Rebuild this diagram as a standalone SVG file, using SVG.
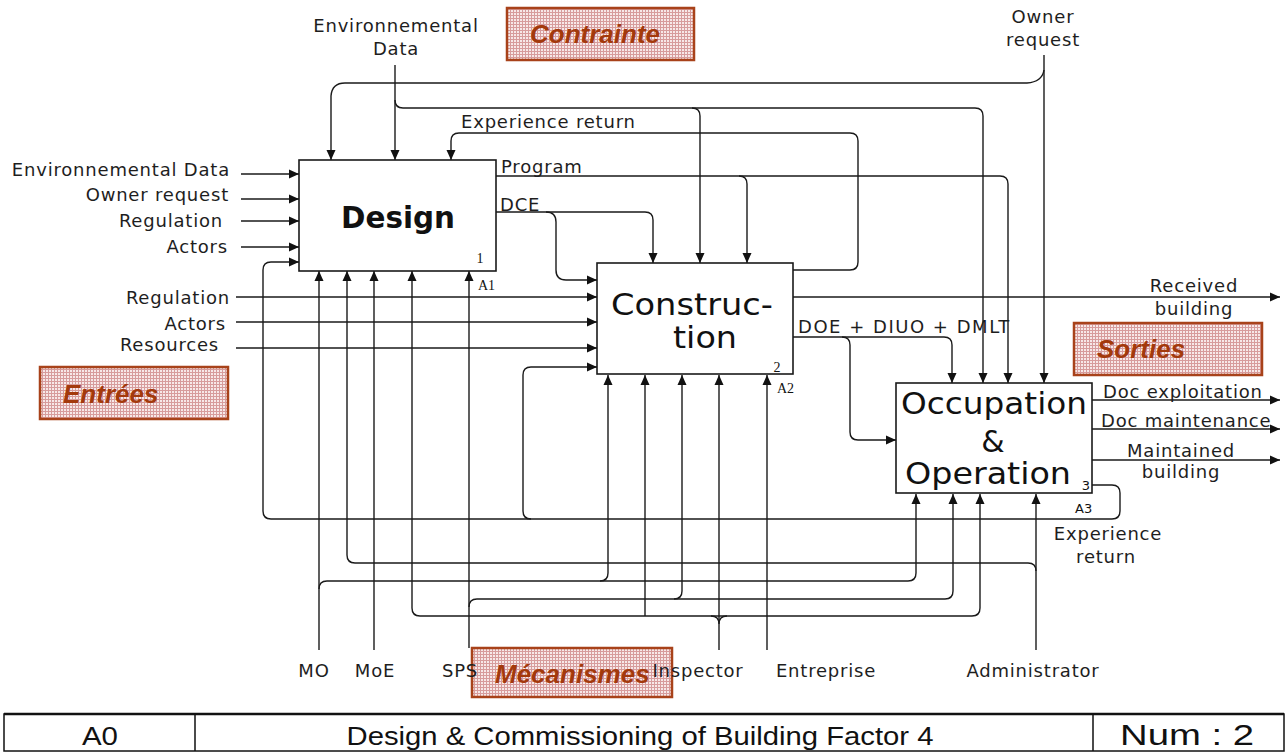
<svg xmlns="http://www.w3.org/2000/svg" width="1288" height="752" viewBox="0 0 1288 752">
<defs>
<marker id="ah" viewBox="0 0 10 10" refX="10" refY="5" markerWidth="10" markerHeight="10" markerUnits="userSpaceOnUse" orient="auto"><path d="M0,0.5 L10,5 L0,9.5 z" fill="#111"/></marker>
<pattern id="grid" width="3" height="3" patternUnits="userSpaceOnUse"><rect width="3" height="3" fill="#f7e8e8"/><path d="M0,0.5H3M0.5,0V3" stroke="#d79c9c" stroke-width="1"/></pattern>
<style>
.c path{fill:none;stroke:#1a1a1a;stroke-width:1.4}
.a{marker-end:url(#ah)}
.node rect{fill:#fff;stroke:#1a1a1a;stroke-width:1.6}
.big{font-family:"DejaVu Sans",Verdana,sans-serif;font-size:31px;fill:#111}
.lbl{font-family:"DejaVu Sans",Verdana,sans-serif;font-size:18px;letter-spacing:0.8px;fill:#1e1e1e}
.m{text-anchor:middle}
.e{text-anchor:end}
.num{font-family:"Liberation Serif","Times New Roman",serif;font-size:14px;fill:#111}
.nums{font-family:"DejaVu Sans",Verdana,sans-serif;font-size:13px;fill:#111}
.tag rect{fill:url(#grid);stroke:#a8421a;stroke-width:2.5}
.tag text{font-family:"Liberation Sans",Arial,sans-serif;font-weight:bold;font-style:italic;font-size:26px;fill:#a3390c}
.tb{font-family:"Liberation Sans",Arial,sans-serif;font-size:26px;fill:#111;text-anchor:middle}
</style>
</defs>
<rect width="1288" height="752" fill="#fff"/>

<g id="connectors" class="c">
<path class="a" d="M241,174H299"/>
<path class="a" d="M241,199H299"/>
<path class="a" d="M241,221H299"/>
<path class="a" d="M241,247H299"/>
<path class="a" d="M236,297H597"/>
<path class="a" d="M236,322H597"/>
<path class="a" d="M236,348H597"/>
<path class="a" d="M1044,55V383"/>
<path class="a" d="M1044,70Q1042,82 1027,83H345Q332,83 331,96V160"/>
<path class="a" d="M395,65V160"/>
<path class="a" d="M395,100Q395,108 403,108H975Q983,108 983,116V383"/>
<path class="a" d="M692,108Q700,108 700,116V263"/>
<path class="a" d="M793,270H850Q858,270 858,262V141Q858,133 850,133H459Q451,133 451,141V160"/>
<path class="a" d="M496,176H1000Q1008,176 1008,184V383"/>
<path class="a" d="M739,176Q747,176 747,184V263"/>
<path class="a" d="M496,212H645Q653,212 653,220V263"/>
<path class="a" d="M546,212Q556,212 556,222V270Q556,280 566,280H597"/>
<path class="a" d="M793,297H1280"/>
<path class="a" d="M793,337H944Q952,337 952,345V383"/>
<path class="a" d="M842,337Q850,337 850,345V432Q850,440 858,440H896"/>
<path class="a" d="M1092,400H1280"/>
<path class="a" d="M1092,429H1280"/>
<path class="a" d="M1092,460H1280"/>
<path class="a" d="M1092,485H1112Q1120,485 1120,493V511Q1120,519 1112,519H271Q263,519 263,511V270Q263,262 271,262H299"/>
<path class="a" d="M531,519Q523,519 523,511V375Q523,367 531,367H597"/>
<path class="a" d="M319,650V271"/>
<path class="a" d="M319,589Q319,581 327,581H908Q916,581 916,573V494"/>
<path class="a" d="M600,581Q608,581 608,573V375"/>
<path class="a" d="M1036,571Q1036,563 1028,563H355Q347,563 347,555V271"/>
<path class="a" d="M374,650V271"/>
<path class="a" d="M972,616H420Q412,616 412,608V271"/>
<path class="a" d="M972,616Q980,616 980,608V494"/>
<path class="a" d="M645,616V375"/>
<path class="a" d="M719,650V375"/>
<path d="M711,616Q719,616 719,624M727,616Q719,616 719,624"/>
<path class="a" d="M469,648V271"/>
<path class="a" d="M469,607Q469,599 477,599H945Q953,599 953,591V494"/>
<path class="a" d="M674,599Q682,599 682,591V375"/>
<path class="a" d="M767,650V375"/>
<path class="a" d="M1036,650V494"/>
</g>

<g id="design" class="node">
<rect x="299" y="160" width="197" height="111"/>
<text class="big m" x="398" y="228" font-weight="bold" textLength="114" lengthAdjust="spacingAndGlyphs">Design</text>
<text class="num m" x="480" y="263">1</text>
<text class="num" x="478" y="290">A1</text>
</g>
<g id="construction" class="node">
<rect x="597" y="263" width="196" height="111"/>
<text class="big" x="611" y="315" textLength="162" lengthAdjust="spacingAndGlyphs">Construc-</text>
<text class="big" x="673" y="348" textLength="64" lengthAdjust="spacingAndGlyphs">tion</text>
<text class="num m" x="777" y="372">2</text>
<text class="num" x="777" y="393">A2</text>
</g>
<g id="occupation" class="node">
<rect x="896" y="383" width="196" height="110"/>
<text class="big" x="901" y="414" textLength="186" lengthAdjust="spacingAndGlyphs" style="font-size:30px">Occupation</text>
<text class="big m" x="993" y="452" style="font-size:30px">&amp;</text>
<text class="big" x="905" y="484" textLength="166" lengthAdjust="spacingAndGlyphs" style="font-size:30px">Operation</text>
<text class="nums m" x="1086" y="490">3</text>
<text class="nums" x="1075" y="513">A3</text>
</g>

<g id="labels" class="lbl">
<text class="m" x="396" y="32">Environnemental</text>
<text class="m" x="396" y="55">Data</text>
<text class="m" x="1043" y="23">Owner</text>
<text class="m" x="1043" y="46">request</text>
<text class="e" x="230" y="176">Environnemental Data</text>
<text class="e" x="229" y="201">Owner request</text>
<text class="e" x="223" y="227">Regulation</text>
<text class="e" x="228" y="253">Actors</text>
<text class="e" x="230" y="304">Regulation</text>
<text class="e" x="226" y="330">Actors</text>
<text class="e" x="219" y="351">Resources</text>
<text x="461" y="128">Experience return</text>
<text x="501" y="173">Program</text>
<text x="500" y="211">DCE</text>
<text x="798" y="333" textLength="212" lengthAdjust="spacing">DOE + DIUO + DMLT</text>
<text class="m" x="1194" y="292">Received</text>
<text class="m" x="1194" y="315">building</text>
<text x="1103" y="398">Doc exploitation</text>
<text x="1101" y="427">Doc maintenance</text>
<text class="m" x="1181" y="457">Maintained</text>
<text class="m" x="1181" y="478">building</text>
<text class="m" x="1108" y="540">Experience</text>
<text class="m" x="1106" y="563">return</text>
</g>

<g id="tag-contrainte" class="tag">
<rect x="507" y="8" width="187" height="52"/>
<text x="530" y="43">Contrainte</text>
</g>
<g id="tag-entrees" class="tag">
<rect x="40" y="367" width="188" height="52"/>
<text x="63" y="403">Entrées</text>
</g>
<g id="tag-sorties" class="tag">
<rect x="1074" y="323" width="188" height="52"/>
<text x="1097" y="358">Sorties</text>
</g>
<g id="tag-mecanismes" class="tag">
<rect x="472" y="648" width="200" height="49"/>
<text x="495" y="683">Mécanismes</text>
</g>

<g id="mechanism-labels" class="lbl">
<text class="m" x="314" y="677">MO</text>
<text class="m" x="375" y="677">MoE</text>
<text class="m" x="460" y="677">SPS</text>
<text class="m" x="698" y="677">Inspector</text>
<text class="m" x="826" y="677">Entreprise</text>
<text class="m" x="1033" y="677">Administrator</text>
</g>

<g id="title-block">
<rect x="4" y="714" width="1280" height="37" fill="#fff" stroke="#111" stroke-width="1.5"/>
<path d="M4,714H1284" stroke="#111" stroke-width="2.5"/>
<path d="M195,714V751M1093,714V751" stroke="#111" stroke-width="1.5"/>
<text class="tb" x="100" y="745" textLength="36" lengthAdjust="spacingAndGlyphs">A0</text>
<text class="tb" x="640" y="745" textLength="587" lengthAdjust="spacingAndGlyphs">Design &amp; Commissioning of Building Factor 4</text>
<text class="tb" x="1187" y="745" style="font-size:29px" textLength="134" lengthAdjust="spacingAndGlyphs">Num : 2</text>
</g>
</svg>
